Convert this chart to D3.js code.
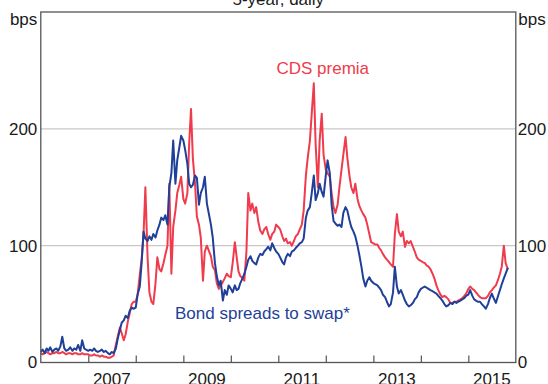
<!DOCTYPE html>
<html><head><meta charset="utf-8">
<script src="https://cdn.jsdelivr.net/npm/d3@7"></script>
<style>html,body{margin:0;padding:0;background:#fff;} svg{display:block;font-family:"Liberation Sans",Arial,Helvetica,sans-serif;}</style>
</head><body><svg id="chart" width="548" height="384"></svg>
<script>
// ---- data (bps, 5-year, sampled on the 1st and 15th of each month) ----
const firstDate = "2006-01-01";
const lastDate = "2015-11-01";
const axisStart = "2006-01-01", axisEnd = "2016-01-01";
const yTickValues = [0, 100, 200];
const xLabelYears = [2007, 2009, 2011, 2013, 2015];
const title = "5-year, daily";
const unitLabel = "bps";
const cdsLabel = "CDS premia";
const bondLabel = "Bond spreads to swap*";

const cds2006 = [8,7,8,9,8,7,8,8,9,8,8,9,8,7,8,8,7,8,8,7,7,8,7,7];
const cds2007 = [7,6,6,7,6,6,5,6,5,5,4,4,5,6,15,22,30,25,19,24,35,42,50,52];
const cds2008 = [52,58,75,88,110,150,90,60,52,50,68,90,80,78,85,92,100,153,76,116,130,145,152,159];
const cds2009 = [140,136,145,188,217,175,153,125,118,107,70,95,100,96,91,82,79,68,63,66,69,72,76,74];
const cds2010 = [73,85,103,90,78,74,72,70,95,145,130,136,128,133,120,113,110,114,116,110,105,110,112,118];
const cds2011 = [116,114,108,104,106,102,103,100,104,108,110,114,118,130,160,175,190,213,239,187,150,190,213,178];
const cds2012 = [165,162,159,145,133,128,135,150,165,178,193,175,160,150,145,153,140,134,130,127,124,118,110,103];
const cds2013 = [102,101,101,98,96,93,90,88,86,84,82,110,127,112,108,112,99,104,102,104,99,95,90,88];
const cds2014 = [87,86,85,83,82,80,76,72,66,62,58,56,57,56,54,51,51,52,52,53,54,55,57,59];
const cds2015 = [63,65,63,62,60,58,56,55,55,55,57,60,62,64,66,70,76,82,100,85,80];

const bond2006 = [9,11,8,12,10,13,9,11,12,10,14,22,12,10,11,13,10,12,11,15,10,19,12,11];
const bond2007 = [10,11,10,12,10,9,10,11,9,10,8,7,9,8,12,20,28,34,36,40,38,44,47,46];
const bond2008 = [47,58,65,85,112,106,104,108,105,110,107,113,118,124,122,126,118,150,162,190,153,173,184,194];
const bond2009 = [190,182,170,153,150,152,160,158,135,145,150,159,136,128,118,107,85,74,66,70,53,62,58,66];
const bond2010 = [63,60,66,62,63,68,72,76,82,88,91,87,85,84,90,93,92,95,97,99,96,102,98,95];
const bond2011 = [93,90,86,84,90,93,91,95,96,98,100,102,103,106,124,130,133,145,160,139,145,153,146,142];
const bond2012 = [160,173,162,135,121,119,117,118,116,128,133,130,122,116,112,108,100,92,82,72,65,70,73,70];
const bond2013 = [68,67,66,64,62,58,56,52,48,50,60,82,65,59,62,58,53,50,48,49,51,54,56,60];
const bond2014 = [63,64,65,64,63,62,61,60,59,57,55,53,50,48,49,51,50,52,51,52,53,54,55,57];
const bond2015 = [58,62,57,54,53,52,52,50,48,46,50,55,59,55,51,56,62,67,72,76,81];

const cdsValues = [].concat(cds2006,cds2007,cds2008,cds2009,cds2010,cds2011,cds2012,cds2013,cds2014,cds2015);
const bondValues = [].concat(bond2006,bond2007,bond2008,bond2009,bond2010,bond2011,bond2012,bond2013,bond2014,bond2015);

// sampling grid: 1st and 15th of every month
const parse = d3.timeParse("%Y-%m-%d");
const dates = [];
d3.timeMonths(parse(firstDate), d3.timeMonth.offset(parse(lastDate), 1)).forEach(m => {
  dates.push(m);
  const mid = new Date(m.getFullYear(), m.getMonth(), 15);
  if (mid <= parse(lastDate)) dates.push(mid);
});

// ---- layout ----
const svg = d3.select("#chart");
const L = 40.8, R = 515.8, T = 12, B = 362.5;
const fs = 17;
const x = d3.scaleTime().domain([parse(axisStart), parse(axisEnd)]).range([L, R]);
const y = d3.scaleLinear().domain([0, 300]).range([B, T]);
const textColor = "#1a1a1a";

// gridlines
svg.append("g").selectAll("line").data(yTickValues.filter(v => v > 0)).join("line")
  .attr("x1", L).attr("x2", R).attr("y1", d => y(d)).attr("y2", d => y(d))
  .attr("stroke", "#c8c8c8").attr("stroke-width", 1.2);

// bottom tick marks (inside)
const xAxis = d3.axisBottom(x).tickValues(d3.timeYears(parse("2007-01-01"), parse(axisEnd))).tickSize(-7).tickFormat("");
const gx = svg.append("g").attr("transform", `translate(0,${B})`).call(xAxis);
gx.select(".domain").remove();
gx.selectAll("line").attr("stroke", "#555").attr("stroke-width", 1.2);

// x labels at mid-year
svg.append("g").selectAll("text").data(xLabelYears).join("text")
  .attr("x", d => x(new Date(d, 6, 1))).attr("y", 385)
  .attr("text-anchor", "middle").attr("font-size", fs).attr("fill", textColor)
  .text(d => d);

// y axes labels
const yLeft = d3.axisLeft(y).tickValues(yTickValues).tickSize(0).tickPadding(3.5);
const gyl = svg.append("g").attr("transform", `translate(${L},0)`).call(yLeft);
gyl.select(".domain").remove();
gyl.selectAll("text").attr("font-size", fs).attr("fill", textColor).attr("font-family", null);
const yRight = d3.axisRight(y).tickValues(yTickValues).tickSize(0).tickPadding(2);
const gyr = svg.append("g").attr("transform", `translate(${R},0)`).call(yRight);
gyr.select(".domain").remove();
gyr.selectAll("text").attr("font-size", fs).attr("fill", textColor).attr("font-family", null);

// unit labels
svg.append("text").attr("x", L - 3.5).attr("y", 24.5).attr("text-anchor", "end")
  .attr("font-size", fs).attr("fill", textColor).text(unitLabel);
svg.append("text").attr("x", R + 2.5).attr("y", 24.5).attr("text-anchor", "start")
  .attr("font-size", fs).attr("fill", textColor).text(unitLabel);

// title (cut off at top)
svg.append("text").attr("x", (L + R) / 2).attr("y", 4.5).attr("text-anchor", "middle")
  .attr("font-size", fs).attr("fill", textColor).text(title);

// lines
const cdsColor = "#ef3b4c", bondColor = "#1f3f98";
const line = d3.line().x(d => x(d[0])).y(d => y(d[1]));
svg.append("path").datum(dates.map((d, i) => [d, cdsValues[i]]))
  .attr("fill", "none").attr("stroke", cdsColor).attr("stroke-width", 2).attr("stroke-linejoin", "round").attr("d", line);
svg.append("path").datum(dates.map((d, i) => [d, bondValues[i]]))
  .attr("fill", "none").attr("stroke", bondColor).attr("stroke-width", 2).attr("stroke-linejoin", "round").attr("d", line);

// frame
svg.append("rect").attr("x", L).attr("y", T).attr("width", R - L).attr("height", B - T)
  .attr("fill", "none").attr("stroke", "#555").attr("stroke-width", 1.3);

// series labels
svg.append("text").attr("x", 276.5).attr("y", 73.5).attr("font-size", fs).attr("fill", cdsColor).text(cdsLabel);
svg.append("text").attr("x", 175).attr("y", 318.5).attr("font-size", fs).attr("fill", bondColor).text(bondLabel);
</script>
</body></html>
